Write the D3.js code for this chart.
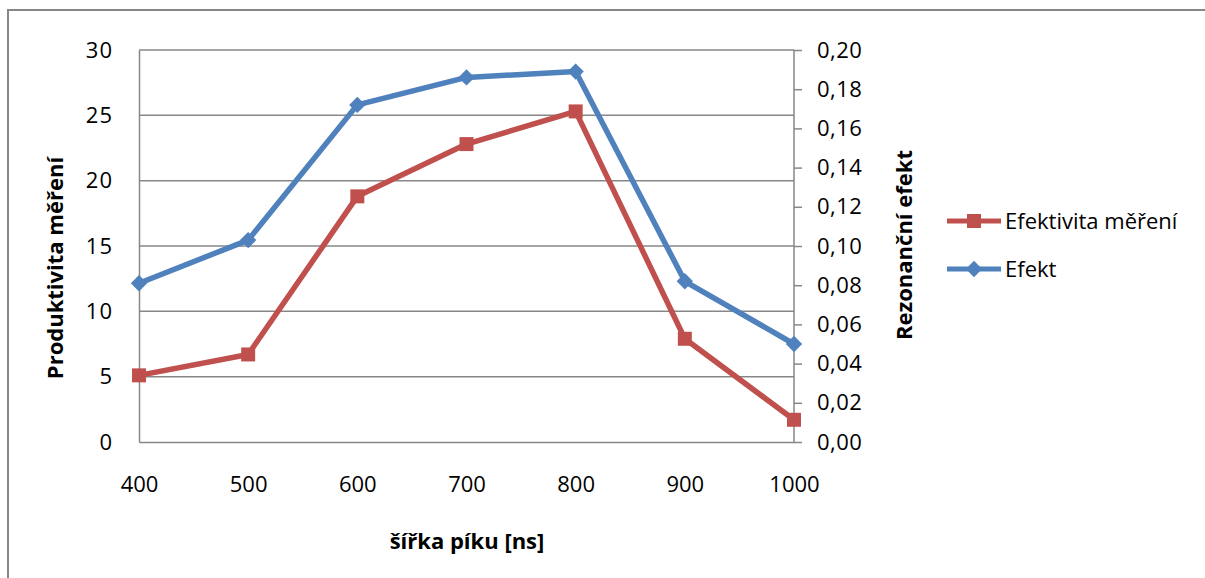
<!DOCTYPE html>
<html><head><meta charset="utf-8">
<script src="https://cdn.jsdelivr.net/npm/d3@7"></script>
<style>
html,body{margin:0;padding:0;background:#fff;}
svg{display:block;font-family:"Open Sans","Noto Sans",sans-serif;}
</style></head>
<body><svg id="c" width="1205" height="578"></svg>
<script>
const categories = [400, 500, 600, 700, 800, 900, 1000];
const efektivita = [5.1, 6.7, 18.8, 22.8, 25.3, 7.9, 1.7];
const efekt = [0.081, 0.103, 0.172, 0.186, 0.189, 0.082, 0.050];
const leftTicks = [0, 5, 10, 15, 20, 25, 30];
const rightTicks = [0, 0.02, 0.04, 0.06, 0.08, 0.10, 0.12, 0.14, 0.16, 0.18, 0.20];
const seriesNames = ["Efektivita měření", "Efekt"];
const colors = ["#C0504D", "#4F81BD"];
const titles = {left: "Produktivita měření", right: "Rezonanční efekt", x: "šířka píku [ns]"};

const svg = d3.select("#c");
const L = 139, R = 794, T = 50, B = 442;
const grid = "#878787";
const fs = 22;

svg.append("rect").attr("x", 8).attr("y", 10).attr("width", 1220).attr("height", 600)
  .attr("fill", "none").attr("stroke", grid).attr("stroke-width", 2);

const x = d3.scaleLinear().domain([400, 1000]).range([L, R]);
const yL = d3.scaleLinear().domain([0, 30]).range([B, T]);
const yR = d3.scaleLinear().domain([0, 0.2]).range([B, T]);

// gridlines
svg.append("g").selectAll("line").data(leftTicks.filter(d => d > 0)).join("line")
  .attr("x1", L).attr("x2", R).attr("y1", d => yL(d)).attr("y2", d => yL(d))
  .attr("stroke", grid).attr("stroke-width", 1.5);

// left axis
const gl = svg.append("g").attr("transform", `translate(${L},0)`)
  .call(d3.axisLeft(yL).tickValues(leftTicks).tickSize(0).tickPadding(26));
gl.select(".domain").attr("stroke", grid).attr("stroke-width", 1.5);
gl.selectAll("text").attr("font-size", fs).attr("fill", "#000").attr("font-family", "Open Sans").attr("letter-spacing", 1);

// right axis
const fmtR = d => d3.format(".2f")(d).replace(".", ",");
const gr = svg.append("g").attr("transform", `translate(${R},0)`)
  .call(d3.axisRight(yR).tickValues(rightTicks).tickSize(8).tickPadding(15).tickFormat(fmtR));
gr.select(".domain").attr("stroke", grid).attr("stroke-width", 1.5).attr("d", `M0,${T}V${B}`);
gr.selectAll(".tick line").attr("stroke", grid).attr("stroke-width", 1.5);
gr.selectAll("text").attr("font-size", fs).attr("fill", "#000").attr("font-family", "Open Sans").attr("letter-spacing", 0.5);

// bottom axis
const gb = svg.append("g").attr("transform", `translate(0,${B})`)
  .call(d3.axisBottom(x).tickValues(categories).tickSize(0).tickPadding(34).tickFormat(d3.format("d")));
gb.select(".domain").attr("stroke", grid).attr("stroke-width", 1.5);
gb.selectAll("text").attr("font-size", fs).attr("fill", "#000").attr("font-family", "Open Sans");

// lines
const data = [
  {name: seriesNames[0], color: colors[0], y: yL, vals: efektivita, shape: "square"},
  {name: seriesNames[1], color: colors[1], y: yR, vals: efekt, shape: "diamond"}
];
const sq = d3.symbol().type(d3.symbolSquare).size(196)();
const dm = d3.symbol().type(d3.symbolDiamond2).size(170)();
data.forEach(s => {
  const pts = categories.map((c, i) => [x(c), s.y(s.vals[i])]);
  svg.append("path").attr("d", d3.line()(pts)).attr("fill", "none")
    .attr("stroke", s.color).attr("stroke-width", 5.5).attr("stroke-linejoin", "round");
  svg.append("g").selectAll("path").data(pts).join("path")
    .attr("transform", d => `translate(${d[0]},${d[1]})`)
    .attr("d", s.shape === "square" ? sq : dm).attr("fill", s.color);
});

// titles
svg.append("text").attr("transform", "translate(63,268) rotate(-90)").attr("text-anchor", "middle")
  .attr("font-size", fs).attr("font-weight", "bold").text(titles.left);
svg.append("text").attr("transform", "translate(912,245) rotate(-90)").attr("text-anchor", "middle")
  .attr("font-size", fs).attr("font-weight", "bold").text(titles.right);
svg.append("text").attr("x", 467).attr("y", 549).attr("text-anchor", "middle")
  .attr("font-size", fs).attr("font-weight", "bold").text(titles.x);

// legend
const lg = svg.append("g");
data.forEach((s, i) => {
  const yy = 221 + i * 48;
  lg.append("line").attr("x1", 947).attr("x2", 1001).attr("y1", yy).attr("y2", yy)
    .attr("stroke", s.color).attr("stroke-width", 5);
  lg.append("path").attr("transform", `translate(974,${yy})`).attr("d", s.shape === "square" ? sq : dm).attr("fill", s.color);
  lg.append("text").attr("x", 1005).attr("y", yy).attr("dy", "0.35em").attr("font-size", fs).text(s.name);
});
</script></body></html>
